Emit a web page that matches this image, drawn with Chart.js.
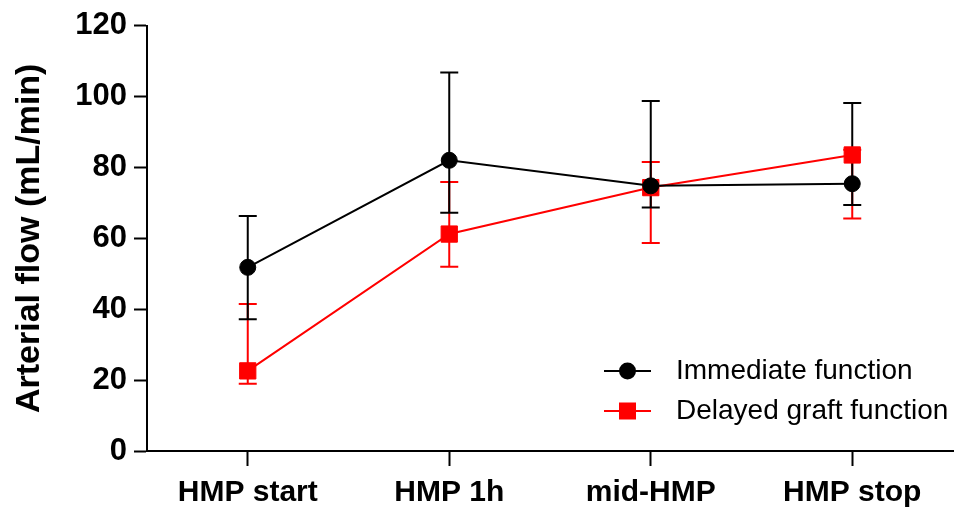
<!DOCTYPE html>
<html>
<head>
<meta charset="utf-8">
<script src="https://cdn.jsdelivr.net/npm/chart.js@4/dist/chart.umd.min.js"></script>
<style>
  html, body { margin: 0; padding: 0; background: #fff; overflow: hidden; }
  canvas { display: block; }
</style>
</head>
<body>
<canvas id="chart" width="956" height="511"></canvas>
<script>
// data
const timepoints = ['HMP start', 'HMP 1h', 'mid-HMP', 'HMP stop'];

const immediate = [51.8, 82.0, 74.8, 75.4];
const immediateHigh = [66.3, 106.8, 98.7, 98.2];
const immediateLow = [37.2, 67.2, 68.7, 69.4];

const delayed = [22.6, 61.2, 74.3, 83.5];
const delayedHigh = [41.5, 75.9, 81.5, 85.0];
const delayedLow = [19.0, 52.0, 58.7, 65.6];

const yTicks = [0, 20, 40, 60, 80, 100, 120];

const FONT = "'Liberation Sans', Arial, Helvetica, sans-serif";

// error bars drawn under the markers
const errorBars = {
    id: 'errorBars',
    beforeDatasetsDraw(chart) {
        const ctx = chart.ctx;
        const xs = chart.scales.x;
        const ys = chart.scales.y;
        // red first so black sits on top
        for (let d = chart.data.datasets.length - 1; d >= 0; d--) {
            const ds = chart.data.datasets[d];
            ctx.save();
            ctx.strokeStyle = ds.borderColor;
            ctx.lineWidth = 2;
            ds.data.forEach((v, i) => {
                const x = xs.getPixelForValue(i);
                const yHi = ys.getPixelForValue(ds.errHigh[i]);
                const yLo = ys.getPixelForValue(ds.errLow[i]);
                ctx.beginPath();
                ctx.moveTo(x, yHi);
                ctx.lineTo(x, yLo);
                ctx.moveTo(x - 9, yHi);
                ctx.lineTo(x + 9, yHi);
                ctx.moveTo(x - 9, yLo);
                ctx.lineTo(x + 9, yLo);
                ctx.stroke();
            });
            ctx.restore();
        }
    }
};

// legend inside the plot, bottom right
const insideLegend = {
    id: 'insideLegend',
    afterDraw(chart) {
        const ctx = chart.ctx;
        const rows = [371, 411];
        chart.data.datasets.forEach((ds, i) => {
            const y = rows[i];
            ctx.save();
            ctx.strokeStyle = ds.borderColor;
            ctx.fillStyle = ds.borderColor;
            ctx.lineWidth = 2;
            ctx.beginPath();
            ctx.moveTo(604, y);
            ctx.lineTo(651, y);
            ctx.stroke();
            if (ds.pointStyle === 'rect') {
                ctx.fillRect(627.5 - 8.5, y - 8.5, 17, 17);
            } else {
                ctx.beginPath();
                ctx.arc(627.5, y, 8.5, 0, Math.PI * 2);
                ctx.fill();
            }
            ctx.fillStyle = '#000';
            ctx.font = '28px ' + FONT;
            ctx.textBaseline = 'middle';
            ctx.textAlign = 'left';
            ctx.fillText(ds.label, 676, y);
            ctx.restore();
        });
    }
};

new Chart(document.getElementById('chart'), {
    type: 'line',
    data: {
        labels: timepoints,
        datasets: [
            {
                label: 'Immediate function',
                data: immediate,
                errHigh: immediateHigh,
                errLow: immediateLow,
                borderColor: '#000000',
                backgroundColor: '#000000',
                borderWidth: 2,
                pointStyle: 'circle',
                pointRadius: 8,
                pointBorderWidth: 1,
                tension: 0
            },
            {
                label: 'Delayed graft function',
                data: delayed,
                errHigh: delayedHigh,
                errLow: delayedLow,
                borderColor: '#ff0000',
                backgroundColor: '#ff0000',
                borderWidth: 2,
                pointStyle: 'rect',
                pointRadius: 11.5,
                pointBorderWidth: 1,
                tension: 0
            }
        ]
    },
    options: {
        responsive: false,
        animation: false,
        layout: { autoPadding: false, padding: { top: 24, right: 3, left: 0, bottom: 0 } },
        plugins: {
            legend: { display: false },
            tooltip: { enabled: false }
        },
        scales: {
            x: {
                offset: true,
                grid: {
                    offset: false,
                    drawOnChartArea: false,
                    drawTicks: true,
                    tickLength: 15,
                    tickWidth: 2,
                    tickColor: '#000'
                },
                border: { display: true, color: '#000', width: 2 },
                ticks: {
                    color: '#000',
                    padding: 9,
                    maxRotation: 0,
                    font: { family: FONT, size: 30, weight: 'bold' }
                },
                afterFit(scale) { scale.height = 60; }
            },
            y: {
                min: 0,
                max: 120,
                afterBuildTicks(scale) {
                    scale.ticks = yTicks.map(v => ({ value: v }));
                },
                grid: {
                    drawOnChartArea: false,
                    drawTicks: true,
                    tickLength: 13,
                    tickWidth: 2,
                    tickColor: '#000'
                },
                border: { display: true, color: '#000', width: 2 },
                ticks: {
                    color: '#000',
                    padding: 7,
                    font: { family: FONT, size: 31, weight: 'bold' }
                },
                title: {
                    display: true,
                    text: 'Arterial flow (mL/min)',
                    color: '#000',
                    padding: { top: 13, bottom: 0 },
                    font: { family: FONT, size: 34, weight: 'bold', lineHeight: 1 }
                },
                afterFit(scale) { scale.width = 147; }
            }
        }
    },
    plugins: [errorBars, insideLegend]
});
</script>
</body>
</html>
